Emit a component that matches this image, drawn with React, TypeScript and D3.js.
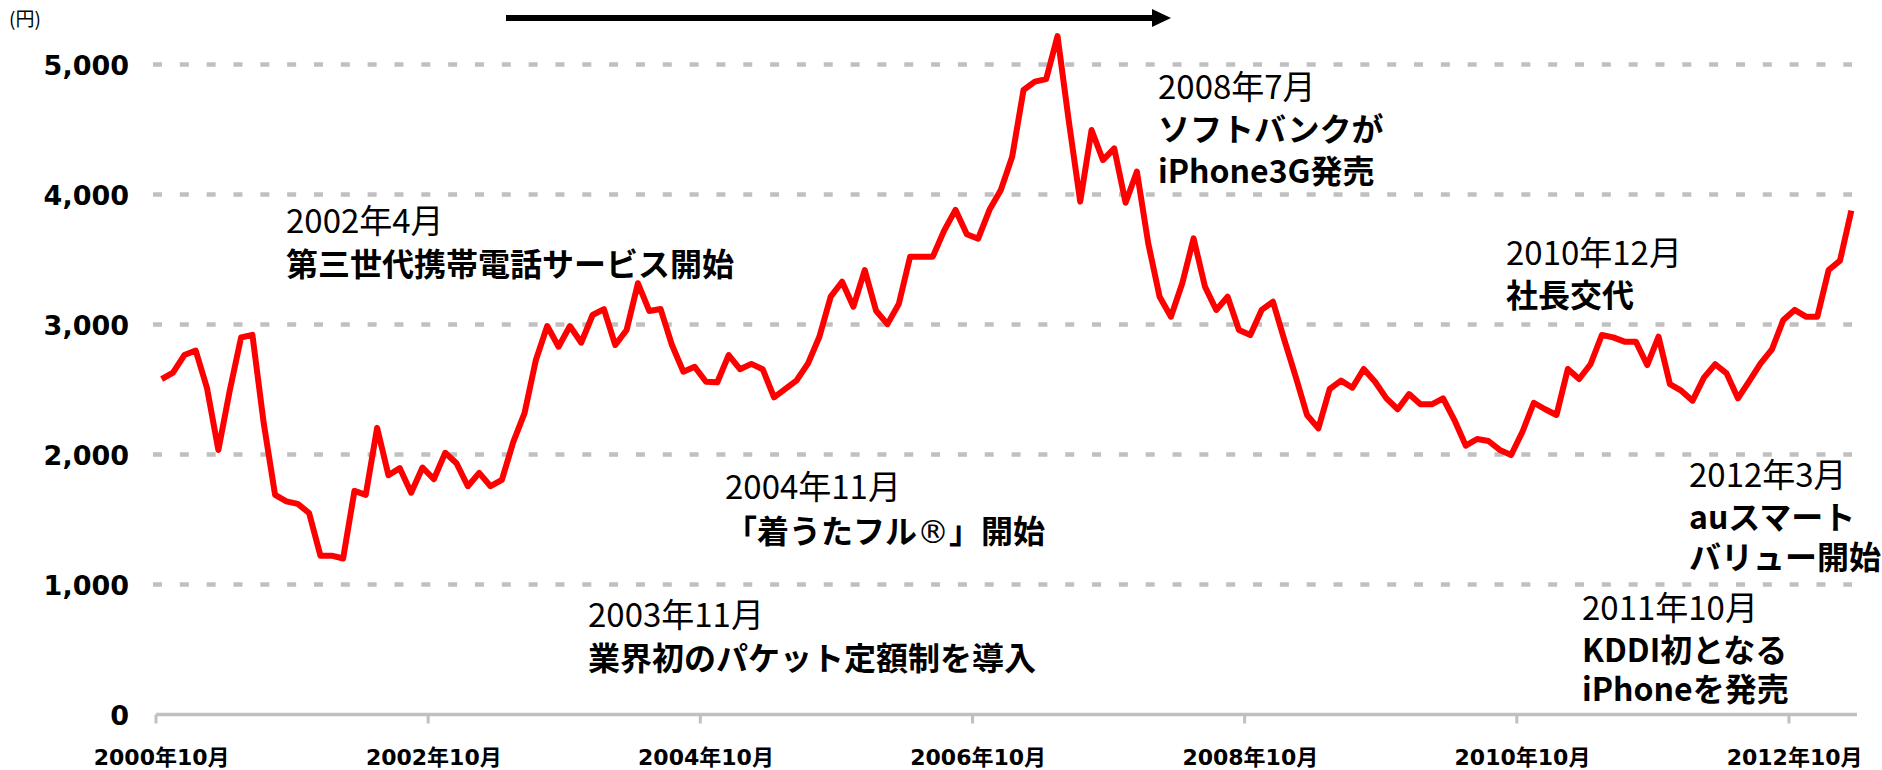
import React from 'react';
import * as d3 from 'd3';

// ---- data ----
// monthly values (円), starting 2000年10月, 150 months
const values: number[] = [
  2580, 2630, 2765, 2800, 2510, 2035, 2490, 2900, 2920, 2240,
  1690, 1640, 1620, 1550, 1222, 1222, 1200, 1720, 1690, 2205,
  1840, 1895, 1706, 1900, 1810, 2013, 1933, 1756, 1859, 1756,
  1805, 2095, 2318, 2727, 2988, 2829, 2988, 2860, 3073, 3119,
  2842, 2958, 3317, 3104, 3119, 2842, 2637, 2675, 2560, 2556,
  2765, 2656, 2697, 2656, 2440, 2505, 2571, 2701, 2906, 3214,
  3329, 3137, 3419, 3106, 3003, 3157, 3522, 3522, 3522, 3722,
  3882, 3694, 3660, 3882, 4035, 4291, 4804, 4868, 4888, 5219,
  4560, 3945, 4496, 4265, 4355, 3937, 4176, 3624, 3214, 3060,
  3317, 3663, 3291, 3112, 3214, 2958, 2919, 3112, 3175, 2881,
  2599, 2304, 2201, 2504, 2568, 2514, 2658, 2560, 2432, 2348,
  2465, 2386, 2386, 2432, 2265, 2068, 2119, 2104, 2035, 1996,
  2175, 2398, 2348, 2304, 2658, 2581, 2694, 2919, 2901, 2868,
  2868, 2688, 2906, 2542, 2491, 2414, 2591, 2694, 2624, 2432,
  2565, 2701, 2809, 3035, 3112, 3060, 3060, 3419, 3491, 3876,
];

const xTickLabels: string[] = [
  '2000年10月', '2002年10月', '2004年10月', '2006年10月',
  '2008年10月', '2010年10月', '2012年10月',
];
const xTickEvery = 24;
const yTicks: number[] = [0, 1000, 2000, 3000, 4000, 5000];
const unitLabel = '(円)';

const annoTexts: string[][] = [
  ['2002年4月', '第三世代携帯電話サービス開始'],
  ['2008年7月', 'ソフトバンクが', 'iPhone3G発売'],
  ['2010年12月', '社長交代'],
  ['2012年3月', 'auスマート', 'バリュー開始'],
  ['2011年10月', 'KDDI初となる', 'iPhoneを発売'],
  ['2004年11月', '「着うたフル®」開始'],
  ['2003年11月', '業界初のパケット定額制を導入'],
];

// ---- layout ----
const W = 1882;
const H = 770;
const annoPos: { x: number; y: number[] }[] = [
  { x: 286, y: [233, 276] },
  { x: 1158, y: [99, 141, 183] },
  { x: 1506, y: [265, 307] },
  { x: 1689, y: [487, 529, 569] },
  { x: 1582, y: [620, 662, 701] },
  { x: 725, y: [499, 543] },
  { x: 588, y: [627, 670] },
];

const JP = "'Noto Sans CJK JP', 'Noto Sans', sans-serif";
const AX = "'DejaVu Sans', 'Noto Sans CJK JP', sans-serif";

function renderLine(t: string) {
  // draw ® as a full-size glyph, like the reference
  const parts = t.split('®');
  if (parts.length === 1) return t;
  const out: React.ReactNode[] = [];
  parts.forEach((p, i) => {
    out.push(<tspan key={'p' + i}>{p}</tspan>);
    if (i < parts.length - 1)
      out.push(
        <tspan key={'r' + i} fontFamily="'DejaVu Sans', sans-serif" fontWeight="normal" fontSize={32}>
          ®
        </tspan>
      );
  });
  return out;
}

export default function App() {
  const x = d3.scaleLinear().domain([0, values.length]).range([156, 1857]);
  const y = d3.scaleLinear().domain([0, 5000]).range([714.5, 64.5]);
  const line = d3
    .line<number>()
    .x((_, i) => x(i + 0.5))
    .y((d) => y(d));
  const fmt = d3.format(',');
  const tickIdx = xTickLabels.map((_, k) => k * xTickEvery);

  return (
    <svg
      width={W}
      height={H}
      viewBox={`0 0 ${W} ${H}`}
      style={{ position: 'absolute', left: 0, top: 0, background: '#fff' }}
    >
      <rect x={0} y={0} width={W} height={H} fill="#fff" />
      {/* gridlines */}
      {yTicks
        .filter((t) => t > 0)
        .map((t) => (
          <line
            key={t}
            x1={153}
            x2={1852}
            y1={y(t)}
            y2={y(t)}
            stroke="#c0c0c0"
            strokeWidth={4.5}
            strokeDasharray="9 17.83"
          />
        ))}
      {/* y labels */}
      {yTicks.map((t) => (
        <text
          key={t}
          x={129}
          y={y(t) + 10}
          textAnchor="end"
          fontFamily={AX}
          fontWeight="bold"
          fontSize={27}
          fill="#000"
        >
          {fmt(t)}
        </text>
      ))}
      <text x={9} y={26} fontFamily={JP} fontSize={19} fill="#000">
        {unitLabel}
      </text>
      {/* x axis */}
      <line x1={x(0)} x2={x(values.length)} y1={y(0)} y2={y(0)} stroke="#c0c0c0" strokeWidth={3.5} />
      {tickIdx.map((i) => (
        <line key={i} x1={x(i)} x2={x(i)} y1={y(0)} y2={y(0) + 9} stroke="#c0c0c0" strokeWidth={3} />
      ))}
      {xTickLabels.map((lab, k) => (
        <text
          key={lab}
          x={x(tickIdx[k] + 0.5)}
          y={765}
          textAnchor="middle"
          fontFamily={AX}
          fontWeight="bold"
          fontSize={22}
          fill="#000"
        >
          {lab}
        </text>
      ))}
      {/* series */}
      <path
        d={line(values) || ''}
        fill="none"
        stroke="#ff0000"
        strokeWidth={6}
        strokeLinejoin="round"
        strokeLinecap="butt"
      />
      {/* annotations */}
      {annoTexts.map((lines, a) =>
        lines.map((t, j) => (
          <text
            key={a + '-' + j}
            x={annoPos[a].x}
            y={annoPos[a].y[j]}
            fontFamily={JP}
            fontWeight={j === 0 ? 'normal' : 'bold'}
            fontSize={j === 0 ? 33 : 32}
            fill="#000"
          >
            {renderLine(t)}
          </text>
        ))
      )}
      {/* arrow */}
      <line x1={506} x2={1153} y1={18} y2={18} stroke="#000" strokeWidth={6} />
      <path d="M1152,9 L1171,18 L1152,27 Z" fill="#000" />
    </svg>
  );
}
